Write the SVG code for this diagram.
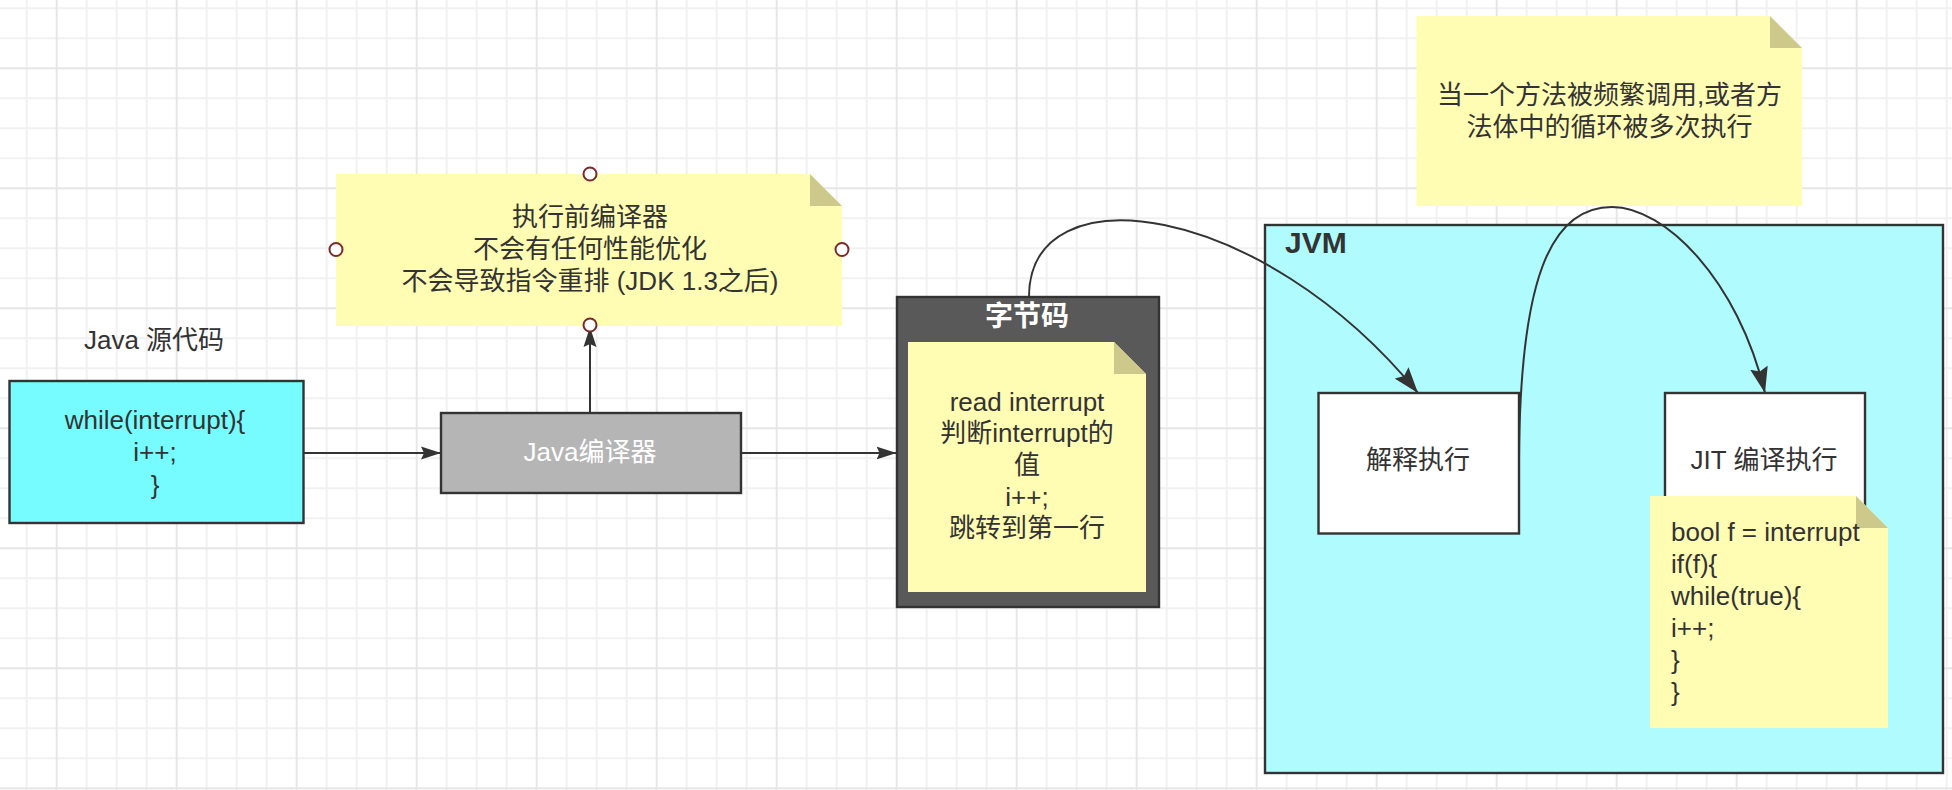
<svg xmlns="http://www.w3.org/2000/svg" width="1952" height="790" viewBox="0 0 1952 790">
<defs>
<pattern id="grid" x="41.7" y="53.3" width="120" height="120" patternUnits="userSpaceOnUse">
<path d="M45,0V120M75,0V120M105,0V120M0,45H120M0,75H120M0,105H120" stroke="#f1f1f1" stroke-width="2" fill="none"/>
<path d="M15,0V120M0,15H120" stroke="#e6e6e6" stroke-width="2" fill="none"/>
</pattern>
<marker id="arrS" viewBox="0 0 20 14" markerWidth="20" markerHeight="14" refX="20" refY="7" orient="auto" markerUnits="userSpaceOnUse">
<path d="M0,0.5 L20,7 L0,13.5 L3,7 z" fill="#333"/>
</marker>
<marker id="arrL" viewBox="0 0 26 18" markerWidth="26" markerHeight="18" refX="26" refY="9" orient="auto" markerUnits="userSpaceOnUse">
<path d="M0,0 L26,9 L0,18 L4,9 z" fill="#333"/>
</marker>
</defs>
<style>
.t{font-family:'Liberation Sans','Noto Sans CJK SC',sans-serif;font-size:26px;fill:#333;}
.c{text-anchor:middle;dominant-baseline:central;}
.l{dominant-baseline:central;}
.w{fill:#fff;}
.box{stroke:#333;stroke-width:2.4;}
.note{fill:#FFFCB4;}
.fold{fill:#CCC98A;}
.edge{fill:none;stroke:#333;stroke-width:2;}
.h{fill:#fff;stroke:#7B2A2A;stroke-width:2;}
</style>
<rect width="1952" height="790" fill="#fff"/>
<rect width="1952" height="790" fill="url(#grid)"/>

<g id="jvm">
<rect class="box" x="1265" y="225" width="678" height="548" fill="#AFFBFD"/>
<text class="t" x="1285" y="253" style="font-size:30px;font-weight:bold">JVM</text>
</g>

<g id="source-label">
<text class="t c" x="154" y="340">Java 源代码</text>
</g>

<g id="source">
<rect class="box" x="9.5" y="381" width="294" height="142" fill="#76FCFF"/>
<text class="t c" x="155" y="420">while(interrupt){</text>
<text class="t c" x="155" y="452">i++;</text>
<text class="t c" x="155" y="485">}</text>
</g>

<g id="compiler">
<rect class="box" x="441" y="413" width="300" height="80" fill="#B5B5B5"/>
<text class="t c w" x="590" y="452">Java编译器</text>
</g>

<g id="bytecode">
<rect class="box" x="897" y="297" width="262" height="310" fill="#595959"/>
<text class="t c w" x="1027" y="316" style="font-size:28px;font-weight:bold">字节码</text>
<polygon class="note" points="908,342 1114,342 1146,374 1146,592 908,592"/>
<polygon class="fold" points="1114,342 1114,374 1146,374"/>
<text class="t c" x="1027" y="402">read interrupt</text>
<text class="t c" x="1027" y="433">判断interrupt的</text>
<text class="t c" x="1027" y="465">值</text>
<text class="t c" x="1027" y="497">i++;</text>
<text class="t c" x="1027" y="528">跳转到第一行</text>
</g>

<g id="interpret">
<rect class="box" x="1318.5" y="393" width="200.5" height="140.5" fill="#fff"/>
<text class="t c" x="1418" y="460">解释执行</text>
</g>

<g id="jit">
<rect class="box" x="1665" y="393" width="200" height="140.5" fill="#fff"/>
<text class="t c" x="1764" y="460">JIT 编译执行</text>
</g>

<g id="connectors">
<path class="edge" d="M304,453 L441,453" marker-end="url(#arrS)"/>
<path class="edge" d="M742,453 L896.5,453" marker-end="url(#arrS)"/>
<path class="edge" d="M590,413 L590,327" marker-end="url(#arrS)"/>
<path class="edge" d="M1029,297 C1029,170 1260,200 1418,393" marker-end="url(#arrL)"/>
<path class="edge" d="M1519,460 C1520,280 1550,207 1612,207 C1665,207 1738,280 1765,393" marker-end="url(#arrL)"/>
</g>

<g id="note-compiler">
<polygon class="note" points="336,174 810,174 842,206 842,326 336,326"/>
<polygon class="fold" points="810,174 810,206 842,206"/>
<text class="t c" x="590" y="217">执行前编译器</text>
<text class="t c" x="590" y="249">不会有任何性能优化</text>
<text class="t c" x="590" y="281">不会导致指令重排 (JDK 1.3之后)</text>
<circle class="h" cx="590" cy="174" r="6.5"/>
<circle class="h" cx="336" cy="249.5" r="6.5"/>
<circle class="h" cx="842" cy="249.5" r="6.5"/>
<circle class="h" cx="590" cy="325" r="6.5"/>
</g>

<g id="note-hot">
<polygon class="note" points="1416.5,16 1770,16 1802,48 1802,206 1416.5,206"/>
<polygon class="fold" points="1770,16 1770,48 1802,48"/>
<text class="t c" x="1609.5" y="95">当一个方法被频繁调用,或者方</text>
<text class="t c" x="1609.5" y="127">法体中的循环被多次执行</text>
</g>

<g id="note-jit">
<polygon class="note" points="1650,496 1856,496 1888,528 1888,728 1650,728"/>
<polygon class="fold" points="1856,496 1856,528 1888,528"/>
<text class="t l" x="1671" y="532">bool f = interrupt</text>
<text class="t l" x="1671" y="564">if(f){</text>
<text class="t l" x="1671" y="596">while(true){</text>
<text class="t l" x="1671" y="628">i++;</text>
<text class="t l" x="1671" y="660">}</text>
<text class="t l" x="1671" y="692">}</text>
</g>
</svg>
